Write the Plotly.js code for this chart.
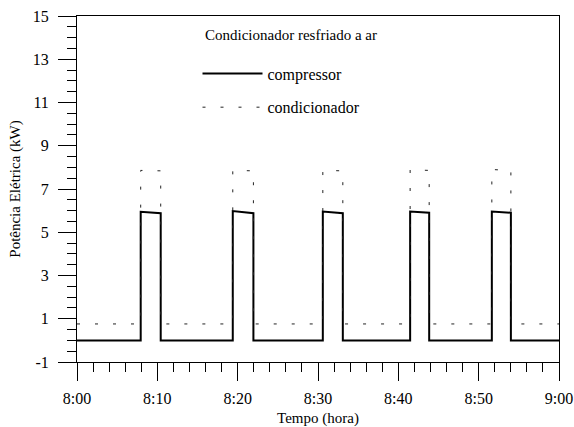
<!DOCTYPE html>
<html>
<head>
<meta charset="utf-8">
<script src="https://cdn.plot.ly/plotly-3.0.1.min.js"></script>
<style>html,body{margin:0;padding:0;background:#fff;}#chart{width:574px;height:427px;}</style>
</head>
<body>
<div id="chart"></div>
<script>
// time in minutes after 8:00
var compressorTime = [0, 7.93, 7.93, 10.42, 10.42, 19.39, 19.39, 21.96, 21.96, 30.6, 30.6, 33.09, 33.09, 41.47, 41.47, 43.84, 43.84, 51.64, 51.64, 54.01, 54.01, 60];
var compressorKW   = [0, 0, 5.95, 5.88, 0, 0, 5.98, 5.88, 0, 0, 5.96, 5.88, 0, 0, 5.96, 5.9, 0, 0, 5.96, 5.9, 0, 0];
var condicionadorTime = [0, 7.93, 7.93, 10.42, 10.42, 19.39, 19.39, 21.96, 21.96, 30.6, 30.6, 33.09, 33.09, 41.47, 41.47, 43.84, 43.84, 51.64, 51.64, 54.01, 54.01, 60];
var condicionadorKW   = [0.76, 0.76, 7.86, 7.84, 0.76, 0.76, 7.86, 7.84, 0.76, 0.76, 7.86, 7.84, 0.76, 0.76, 7.89, 7.86, 0.76, 0.76, 7.9, 7.86, 0.76, 0.76];
var xTickVals = [0, 10, 20, 30, 40, 50, 60];
var xTickText = ["8:00", "8:10", "8:20", "8:30", "8:40", "8:50", "9:00"];
var yTickVals = [-1, 1, 3, 5, 7, 9, 11, 13, 15];
var yTickText = ["-1", "1", "3", "5", "7", "9", "11", "13", "15"];
var legendTitle = "Condicionador resfriado a ar";
var seriesNames = ["compressor", "condicionador"];

var FONT = "Liberation Serif";

var traces = [
  {x: compressorTime, y: compressorKW, type: "scatter", mode: "lines", name: seriesNames[0],
   legendgroup: "a", line: {color: "#000", width: 2}},
  {x: condicionadorTime, y: condicionadorKW, type: "scatter", mode: "lines", name: seriesNames[1],
   legendgroup: "b", line: {color: "#222", width: 1, dash: "3px,15px"}}
];

var axisCommon = {
  showline: true, linecolor: "#000", linewidth: 1, mirror: true,
  ticks: "outside", ticklen: 18, tickwidth: 1, tickcolor: "#000",
  showgrid: false, zeroline: false,
  tickfont: {family: FONT, size: 16, color: "#000"}
};

var layout = {
  width: 574, height: 427,
  margin: {l: 77, r: 15, t: 16, b: 65},
  paper_bgcolor: "#fff", plot_bgcolor: "#fff",
  font: {family: FONT, color: "#000", size: 15},
  showlegend: true,
  legend: {
    x: 0.25, y: 0.883, xanchor: "left", yanchor: "top",
    bgcolor: "rgba(0,0,0,0)", borderwidth: 0,
    itemwidth: 60, tracegroupgap: 10,
    font: {family: FONT, size: 16, color: "#000"}
  },
  annotations: [
    {text: legendTitle, xref: "paper", yref: "paper", x: 0.262, y: 0.945, xanchor: "left", yanchor: "middle",
     showarrow: false, font: {family: FONT, size: 15, color: "#000"}}
  ],
  xaxis: Object.assign({}, axisCommon, {
    range: [0, 60], tickmode: "array", tickvals: xTickVals, ticktext: xTickText,
    ticklabelstandoff: 4,
    minor: {tickmode: "linear", tick0: 0, dtick: 2, ticks: "outside", ticklen: 9, tickwidth: 1, tickcolor: "#000", showgrid: false},
    title: {text: "Tempo (hora)", font: {family: FONT, size: 15, color: "#000"}, standoff: 6}
  }),
  yaxis: Object.assign({}, axisCommon, {
    range: [-1, 15], tickmode: "array", tickvals: yTickVals, ticktext: yTickText,
    ticklabelstandoff: 6,
    minor: {tickmode: "linear", tick0: -1, dtick: 0.5, ticks: "outside", ticklen: 9, tickwidth: 1, tickcolor: "#000", showgrid: false},
    title: {text: "Potência Elétrica (kW)", font: {family: FONT, size: 15, color: "#000"}, standoff: 8}
  })
};

Plotly.newPlot("chart", traces, layout, {staticPlot: true, displayModeBar: false});
</script>
</body>
</html>
